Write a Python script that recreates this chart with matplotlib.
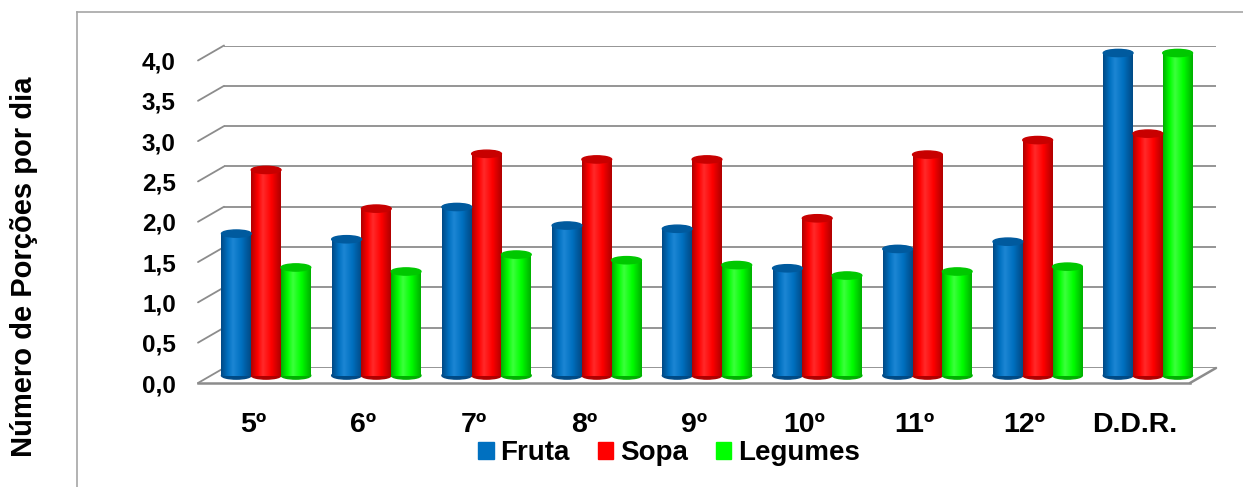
import numpy as np
import matplotlib
matplotlib.use("Agg")
import matplotlib.pyplot as plt
from matplotlib.patches import Ellipse, Patch, ConnectionPatch
from matplotlib.colors import LinearSegmentedColormap

anos = ["5º", "6º", "7º", "8º", "9º", "10º", "11º", "12º", "D.D.R."]
fruta = [1.76, 1.69, 2.09, 1.86, 1.82, 1.33, 1.57, 1.66, 4.0]
sopa = [2.55, 2.07, 2.75, 2.68, 2.68, 1.95, 2.74, 2.92, 3.0]
legumes = [1.34, 1.29, 1.50, 1.43, 1.37, 1.24, 1.29, 1.35, 4.0]
series = ["Fruta", "Sopa", "Legumes"]
yticks = [0, 0.5, 1.0, 1.5, 2.0, 2.5, 3.0, 3.5, 4.0]

# (escuro, medio, claro, topo)
cores = [
    ("#004a86", "#0070c0", "#1c86d4", "#005a9e"),
    ("#b00000", "#ff0000", "#ff2a2a", "#c80000"),
    ("#00b000", "#00ff00", "#3cff3c", "#00c800"),
]

W, H = 1243, 487
plt.rcParams["font.family"] = ["Liberation Sans", "DejaVu Sans"]
plt.rcParams["font.weight"] = "bold"


def caixa(x0, y0, x1, y1):
    # caixa em pixeis (origem em cima) -> fraccao da figura
    return [x0 / W, 1 - y1 / H, (x1 - x0) / W, (y1 - y0) / H]


fig = plt.figure(figsize=(W / 100, H / 100), dpi=100)

# moldura cinzenta do grafico
fig.add_artist(plt.Line2D([77 / W, 77 / W], [0, 1 - 12 / H], color="#a6a6a6", lw=1.2))
fig.add_artist(plt.Line2D([77 / W, 1], [1 - 12 / H, 1 - 12 / H], color="#a6a6a6", lw=1.2))

back = fig.add_axes(caixa(224, 45.5, 1216, 368), zorder=0)
front = fig.add_axes(caixa(198, 60.5, 1190, 383), zorder=1)
mid = fig.add_axes(caixa(211, 53, 1203, 375.5), zorder=2)

n = len(anos)
for ax in (back, front, mid):
    ax.set_xlim(-0.5, n - 0.5)
    ax.set_ylim(0, 4)
    ax.patch.set_alpha(0)
    for s in ax.spines.values():
        s.set_visible(False)

grid_c = "#8c8c8c"
back.hlines(yticks, -0.5, n - 0.5, color=grid_c, lw=1.3)
back.set_xticks([])
back.set_yticks([])
mid.set_xticks([])
mid.set_yticks([])

# linhas laterais (perspectiva)
for v in yticks:
    con = ConnectionPatch(xyA=(-0.5, v), coordsA=front.transData,
                          xyB=(-0.5, v), coordsB=back.transData,
                          color=grid_c, lw=1.3)
    fig.add_artist(con)
con = ConnectionPatch(xyA=(n - 0.5, 0), coordsA=front.transData,
                      xyB=(n - 0.5, 0), coordsB=back.transData,
                      color=grid_c, lw=1.8)
fig.add_artist(con)
front.plot([-0.5, n - 0.5], [0, 0], color=grid_c, lw=1.8, clip_on=False)

front.set_yticks(yticks)
front.set_yticklabels([f"{v:.1f}".replace(".", ",") for v in yticks], fontsize=17.5)
front.set_xticks(range(n))
front.set_xticklabels(anos, fontsize=20.5)
front.tick_params(length=0)
front.tick_params(axis="y", pad=16)
front.tick_params(axis="x", pad=21)

# cilindros
w = 0.27
eh = 0.09
grad = np.linspace(0, 1, 64).reshape(1, -1)
for j, vals in enumerate([fruta, sopa, legumes]):
    escuro, medio, claro, topo = cores[j]
    cmap = LinearSegmentedColormap.from_list(
        "c%d" % j, [(0, escuro), (0.22, medio), (0.4, claro), (0.68, medio), (1, escuro)])
    x = np.arange(n) + (j - 1) * w
    bars = mid.bar(x, vals, w, color=medio, zorder=3)
    for xc, h, rect in zip(x, vals, bars):
        mid.add_patch(Ellipse((xc, 0), w, eh, color=escuro, zorder=2, clip_on=False))
        im = mid.imshow(grad, extent=(xc - w / 2, xc + w / 2, 0, h), aspect="auto",
                        cmap=cmap, zorder=4)
        im.set_clip_path(rect)
        mid.add_patch(Ellipse((xc, h), w, eh, color=topo, zorder=5, clip_on=False))
mid.set_xlim(-0.5, n - 0.5)
mid.set_ylim(0, 4)

handles = [Patch(color=c[1]) for c in cores]
fig.legend(handles, series, loc="center", bbox_to_anchor=(669 / W, 1 - 453 / H),
           ncol=3, frameon=False, fontsize=20, handlelength=0.55, handleheight=0.55,
           handletextpad=0.25, columnspacing=1.0, borderpad=0)

fig.text(24 / W, 1 - 267 / H, "Número de Porções por dia", rotation=90,
         ha="center", va="center", fontsize=21, fontweight="bold")

fig.savefig("out.png", dpi=100)
